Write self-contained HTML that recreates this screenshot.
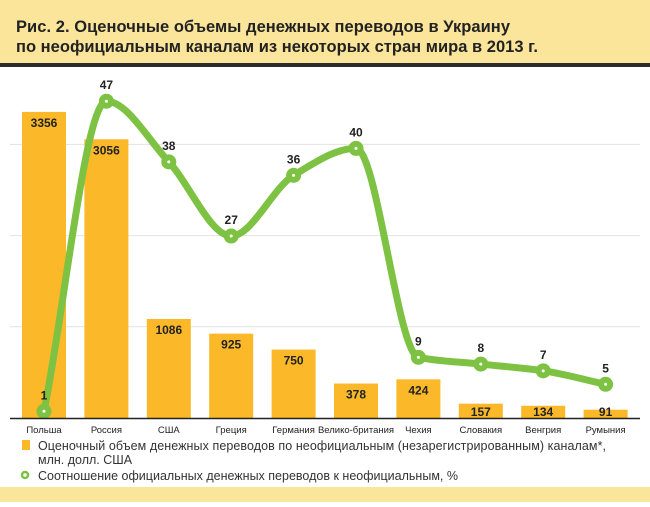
<!DOCTYPE html>
<html><head><meta charset="utf-8"><style>
body{margin:0;width:650px;height:502px;overflow:hidden;background:#fff;font-family:"Liberation Sans",sans-serif}
</style></head><body>
<svg width="650" height="502" xmlns="http://www.w3.org/2000/svg">
<rect x="0" y="0" width="650" height="64" fill="#fae59b"/>
<rect x="0" y="63" width="650" height="4" fill="#2b2b2b"/>
<text x="16" y="32" font-size="16.5" font-weight="bold" fill="#222" textLength="494">Рис. 2. Оценочные объемы денежных переводов в Украину</text>
<text x="16" y="52" font-size="16.5" font-weight="bold" fill="#222" textLength="522">по неофициальным каналам из некоторых стран мира в 2013 г.</text>
<rect x="0" y="487" width="650" height="15" fill="#fae59b"/>
<g id="grid"></g><g id="bars"></g><g id="line"></g><g id="labels"></g>
<line x1="10" y1="418.5" x2="640" y2="418.5" stroke="#222" stroke-width="1.5"/>
<rect x="22" y="440" width="8" height="10" fill="#fbb829"/>
<text x="38" y="450" font-size="12.5" fill="#333" textLength="568">Оценочный объем денежных переводов по неофициальным (незарегистрированным) каналам*,</text>
<text x="38" y="464" font-size="12.5" fill="#333">млн. долл. США</text>
<circle cx="25" cy="475" r="3" fill="none" stroke="#7dc242" stroke-width="2.5"/>
<text x="38" y="480" font-size="12.5" fill="#333" textLength="420">Соотношение официальных денежных переводов к неофициальным, %</text>
</svg>
<script>
const categories=["Польша","Россия","США","Греция","Германия","Велико-британия","Чехия","Словакия","Венгрия","Румыния"];
const volumes=[3356,3056,1086,925,750,378,424,157,134,91];
const ratios=[1,47,38,27,36,40,9,8,7,5];
const gridTicks=[1000,2000,3000];
const NS="http://www.w3.org/2000/svg";
const base=418;
const x=i=>44+i*62.4;
const yBar=v=>base-v*0.0912;
const yLine=v=>base-v*6.74;
function mk(t,a,p){const e=document.createElementNS(NS,t);for(const k in a)e.setAttribute(k,a[k]);p.appendChild(e);return e;}
const g=document.getElementById('grid'),b=document.getElementById('bars'),l=document.getElementById('line'),lb=document.getElementById('labels');
gridTicks.forEach(t=>{const e=mk('line',{x1:10,x2:640,y1:yBar(t),y2:yBar(t),stroke:'#e2e2e2','stroke-width':1},g);

});
categories.forEach((c,i)=>{
const r=mk('rect',{x:x(i)-22,y:yBar(volumes[i]),width:44,height:base-yBar(volumes[i]),fill:'#fbb829'},b);


const vt=mk('text',{x:x(i),y:Math.min(yBar(volumes[i])+15,416),'font-size':12,'font-weight':'bold','text-anchor':'middle',fill:'#222'},lb);vt.textContent=volumes[i];


const ct=mk('text',{x:x(i),y:433,'font-size':9.5,'text-anchor':'middle',fill:'#222'},lb);ct.textContent=c;


});
const P=ratios.map((v,i)=>[x(i),yLine(v)]);
// monotone cubic
const n=P.length,dx=[],s=[],m=[];
for(let i=0;i<n-1;i++){dx[i]=P[i+1][0]-P[i][0];s[i]=(P[i+1][1]-P[i][1])/dx[i];}
m[0]=s[0];m[n-1]=s[n-2];
for(let i=1;i<n-1;i++){m[i]=(s[i-1]*s[i]<=0)?0:2/(1/s[i-1]+1/s[i]);}
let d='M'+P[0][0]+','+P[0][1];
for(let i=0;i<n-1;i++){const h=dx[i]/3;
d+=` C${P[i][0]+h},${P[i][1]+m[i]*h} ${P[i+1][0]-h},${P[i+1][1]-m[i+1]*h} ${P[i+1][0]},${P[i+1][1]}`;}
const path=mk('path',{d:d,fill:'none',stroke:'#7dc242','stroke-width':7,'stroke-linecap':'round'},l);


P.forEach((p,i)=>{const c=mk('circle',{cx:p[0],cy:p[1],r:7.5,fill:'#7dc242'},l);


mk('circle',{cx:p[0],cy:p[1],r:1.5,fill:'#fff'},l);
const t=mk('text',{x:p[0],y:p[1]-12,'font-size':12,'font-weight':'bold','text-anchor':'middle',fill:'#222'},lb);t.textContent=ratios[i];

});
</script>
</body></html>
